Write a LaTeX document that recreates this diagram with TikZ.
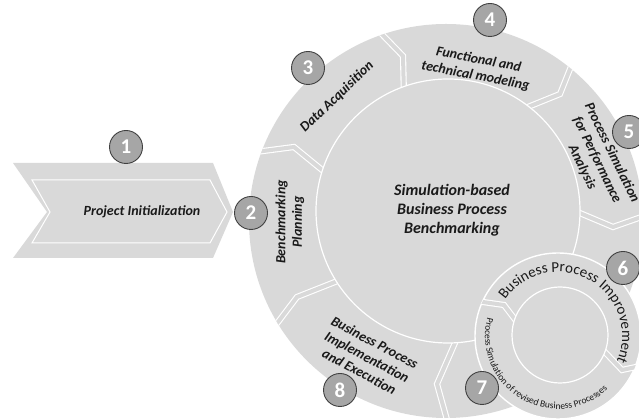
\documentclass[tikz,border=0pt]{standalone}
\usepackage{fontspec}
\setmainfont{Carlito}
\usetikzlibrary{decorations.text}

\definecolor{ringgrey}{HTML}{D9D9D9}
\definecolor{badgegrey}{HTML}{A6A6A6}
\definecolor{badgeline}{HTML}{404040}
\definecolor{labeltext}{HTML}{1A1A1A}

\begin{document}
\begin{tikzpicture}[x=1pt, y=1pt,
		badge/.style={circle, fill=badgegrey, draw=badgeline, line width=0.9pt,
			minimum size=33pt, inner sep=0pt, text=white,
			font=\fontsize{21}{21}\selectfont\bfseries},
		seglabel/.style={align=center, text=labeltext,
			font=\fontsize{14}{16.5}\selectfont\bfseries\itshape},
		gap/.style={draw=white, line width=1.1pt, double=ringgrey, double distance=4pt},
	]
		\useasboundingbox (0,0) rectangle (639,419);

		% first phase, the arrow
		\fill[ringgrey] (13,256) -- (213,256) -- (233,207) -- (213,161) -- (13,161) -- (47,207) -- cycle;
		\draw[white, line width=1pt] (32,239) -- (210,239) -- (227,207) -- (210,176) -- (32,176) -- (50,207) -- cycle;
		\node[seglabel] (init) at (142,207) {Project Initialization};

		% the big cycle
		\fill[ringgrey] (446,198) circle (197);
		\begin{scope}
			\clip (446,198) circle (197);
			\draw[gap] (248,266) -- (294,272) -- (327,245);
			\draw[gap] (371,396) -- (403,363) -- (404,322);
			\draw[gap] (576,365) -- (560,325) -- (518,308);
			\draw[gap] (650,205) -- (613,192) -- (575,208);
			\draw[gap] (449,-8) -- (437,35) -- (458,83);
			\draw[gap] (272,89) -- (297,122) -- (340,139);
		\end{scope}
		\filldraw[fill=ringgrey, draw=white, line width=1.2pt] (448,208) circle (132);

		\node[seglabel, font=\fontsize{16}{19}\selectfont\bfseries\itshape] (core) at (452,209)
			{Simulation-based\\Business Process\\Benchmarking};
		\node[seglabel, rotate=90] (plan) at (290,197) {Benchmarking\\Planning};
		\node[seglabel, rotate=44] (data) at (337,322) {Data Acquisition};
		\node[seglabel, rotate=-11] (model) at (477,351) {Functional and\\technical modeling};
		\node[seglabel, rotate=-64] (perf) at (597,259) {Process Simulation\\for Performance\\Analysis};
		\node[seglabel, rotate=-28] (impl) at (367,62) {Business Process\\Implementation\\and Execution};

		% improvement loop
		\filldraw[fill=ringgrey, draw=white, line width=1.4pt] (558,83) circle (83);
		\begin{scope}
			\clip (558,83) circle (83);
			\draw[gap] (476,118) -- (504,114) -- (520,93);
			\draw[gap] (602,70) -- (622,49) -- (650,55);
		\end{scope}
		\filldraw[fill=ringgrey, draw=white, line width=1.2pt] (560,84) circle (48);

		\path[decorate, decoration={text along path, text align=center, text color=labeltext,
			text={|\fontsize{15}{16}\selectfont|Business Process Improvement}}]
			(558,83) ++(151:64) arc[start angle=151, end angle=-29, radius=64];
		\path[decorate, decoration={text along path, text align=center, text color=labeltext,
			text={|\fontsize{9.5}{10}\selectfont|Process Simulation of revised Business Processes}}]
			(558,83) ++(149:73) arc[start angle=149, end angle=329, radius=73];

		% step numbers
		\node[badge] (n1) at (126,272) {1};
		\node[badge] (n2) at (251,206) {2};
		\node[badge] (n3) at (308,351) {3};
		\node[badge] (n4) at (490,399) {4};
		\node[badge] (n5) at (629,287) {5};
		\node[badge] (n6) at (623,151) {6};
		\node[badge] (n7) at (482,31) {7};
		\node[badge] (n8) at (340,29) {8};

	\end{tikzpicture}
\end{document}
